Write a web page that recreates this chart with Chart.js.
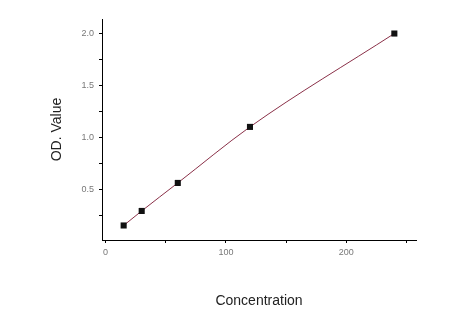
<!DOCTYPE html>
<html>
<head>
<meta charset="utf-8">
<script src="https://cdn.jsdelivr.net/npm/chart.js@4/dist/chart.umd.min.js"></script>
<style>
  html, body { margin: 0; padding: 0; background: #fff; }
  #wrap { width: 450px; height: 328px; }
</style>
</head>
<body>
<div id="wrap"><canvas id="curve"></canvas></div>
<script>
// standard curve data
var concentration = [15, 30, 60, 120, 240];
var od_value = [0.15, 0.29, 0.56, 1.10, 2.00];
var x_ticks = [0, 100, 200];
var y_ticks = [0.5, 1.0, 1.5, 2.0];

var points = [];
for (var i in concentration) {
    points.push({ x: concentration[i], y: od_value[i] });
}

var ctx = document.getElementById('curve');

var chart = new Chart(ctx, {
    type: 'scatter',
    data: {
        datasets: [{
            label: 'OD',
            data: points,
            showLine: true,
            cubicInterpolationMode: 'monotone',
            borderColor: '#8a3048',
            borderWidth: 1,
            pointStyle: 'rect',
            pointRadius: 4.3,
            pointBorderWidth: 0,
            pointBackgroundColor: '#111',
            pointBorderColor: '#111'
        }]
    },
    options: {
        responsive: true,
        maintainAspectRatio: false,
        animation: false,
        layout: { padding: { left: 49, right: 34, top: 19, bottom: 18 } },
        plugins: { legend: { display: false }, tooltip: { enabled: false } },
        scales: {
            x: {
                type: 'linear',
                min: -3,
                max: 258,
                afterFit: function(scale) { scale.height = 70; },
                border: { display: true, color: '#000', width: 1 },
                grid: { drawOnChartArea: false, drawTicks: true, tickLength: 3, color: '#000' },
                ticks: {
                    stepSize: 50,
                    includeBounds: false,
                    maxRotation: 0,
                    padding: 4,
                    color: '#777',
                    font: { family: 'Liberation Sans', size: 9 },
                    callback: function(v) { return x_ticks.indexOf(v) >= 0 ? String(v) : ''; }
                },
                title: {
                    display: true,
                    text: 'Concentration',
                    color: '#222',
                    padding: 0,
                    font: { family: 'Liberation Sans', size: 14 }
                }
            },
            y: {
                type: 'linear',
                min: 0.01,
                max: 2.14,
                afterFit: function(scale) { scale.width = 53; },
                border: { display: true, color: '#000', width: 1 },
                grid: { drawOnChartArea: false, drawTicks: true, tickLength: 3, color: '#000' },
                ticks: {
                    stepSize: 0.25,
                    includeBounds: false,
                    padding: 5,
                    color: '#777',
                    font: { family: 'Liberation Sans', size: 9 },
                    callback: function(v) {
                        var r = Math.round(v * 100) / 100;
                        return y_ticks.indexOf(r) >= 0 ? r.toFixed(1) : '';
                    }
                },
                title: {
                    display: true,
                    text: 'OD. Value',
                    color: '#222',
                    padding: 0,
                    font: { family: 'Liberation Sans', size: 14 }
                }
            }
        }
    }
});
</script>
</body>
</html>
